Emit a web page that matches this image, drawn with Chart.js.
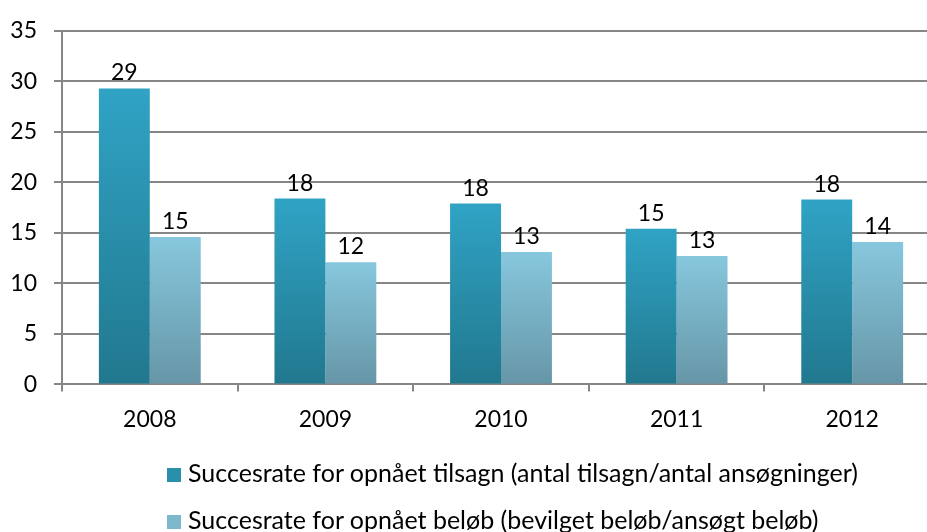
<!DOCTYPE html>
<html>
<head>
<meta charset="utf-8">
<script src="https://cdn.jsdelivr.net/npm/chart.js@4.4.0/dist/chart.umd.min.js"></script>
<style>
    html, body { margin: 0; padding: 0; background: #fff; overflow: hidden; }
    #wrap { position: relative; width: 940px; height: 532px; }
    #legend { position: absolute; left: 167px; top: 0; font-family: Lato, sans-serif; font-size: 25px; line-height: 30px; color: #000; }
    #legend div { position: absolute; left: 0; white-space: nowrap; }
    #legend span.box { position: absolute; left: 0; top: 11px; width: 14px; height: 14px; }
    #legend span.txt { margin-left: 21px; }
</style>
</head>
<body>
<div id="wrap">
    <canvas id="chart" width="940" height="532"></canvas>
    <div id="legend"></div>
</div>
<script>
var years = ['2008', '2009', '2010', '2011', '2012'];
var tilsagn = [29.3, 18.4, 17.9, 15.4, 18.3];
var beloeb = [14.6, 12.1, 13.1, 12.7, 14.1];
var seriesNames = [
    'Succesrate for opnået tilsagn (antal tilsagn/antal ansøgninger)',
    'Succesrate for opnået beløb (bevilget beløb/ansøgt beløb)'
];

// vertical gradient from top of each bar down to the axis
function makeGradient(top, bottom) {
    return function(ctx) {
        var chart = ctx.chart;
        if (!chart.chartArea || ctx.type !== 'data') return top;
        var y = chart.scales.y;
        var g = chart.ctx.createLinearGradient(0, y.getPixelForValue(ctx.raw), 0, y.getPixelForValue(0));
        g.addColorStop(0, top);
        g.addColorStop(1, bottom);
        return g;
    };
}

// value labels above bars
var valueLabels = {
    id: 'valueLabels',
    afterDatasetsDraw: function(chart) {
        var c = chart.ctx;
        c.save();
        c.font = '23px Lato, sans-serif';
        c.fillStyle = '#000';
        c.textAlign = 'center';
        c.textBaseline = 'alphabetic';
        chart.data.datasets.forEach(function(ds, i) {
            chart.getDatasetMeta(i).data.forEach(function(bar, j) {
                c.fillText(Math.round(ds.data[j]), bar.x, bar.y - 8);
            });
        });
        c.restore();
    }
};

var ctx = document.getElementById('chart').getContext('2d');
var chart = new Chart(ctx, {
    type: 'bar',
    data: {
        labels: years,
        datasets: [{
            label: seriesNames[0],
            data: tilsagn,
            backgroundColor: makeGradient('#30a3c5', '#21788e'),
            legendColor: '#2a8fab'
        }, {
            label: seriesNames[1],
            data: beloeb,
            backgroundColor: makeGradient('#87c7dd', '#6696a7'),
            legendColor: '#7db7cb'
        }]
    },
    options: {
        responsive: false,
        animation: false,
        barPercentage: 1,
        categoryPercentage: 0.58,
        layout: { padding: { top: 27, bottom: 85, left: 0, right: 0 } },
        plugins: {
            legend: { display: false },
            tooltip: { enabled: false }
        },
        scales: {
            x: {
                grid: { display: true, drawOnChartArea: false, offset: true, color: '#868686', lineWidth: 2, tickLength: 7 },
                border: { color: '#868686', width: 2 },
                ticks: { color: '#000', font: { family: 'Lato', size: 23 }, padding: 14 }
            },
            y: {
                min: 0,
                max: 35,
                ticks: { stepSize: 5, color: '#000', font: { family: 'Lato', size: 23 }, padding: 17 },
                grid: { color: '#868686', lineWidth: 2, tickLength: 8 },
                border: { color: '#868686', width: 2 },
                afterFit: function(scale) { scale.width = 62; }
            }
        }
    },
    plugins: [valueLabels]
});

// legend, one row per series
var legend = document.getElementById('legend');
var rowTops = [457, 504];
chart.data.datasets.forEach(function(ds, i) {
    legend.innerHTML += '<div style="top:' + rowTops[i] + 'px"><span class="box" style="background:' + ds.legendColor + '"></span><span class="txt">' + ds.label + '</span></div>';
});
</script>
</body>
</html>
